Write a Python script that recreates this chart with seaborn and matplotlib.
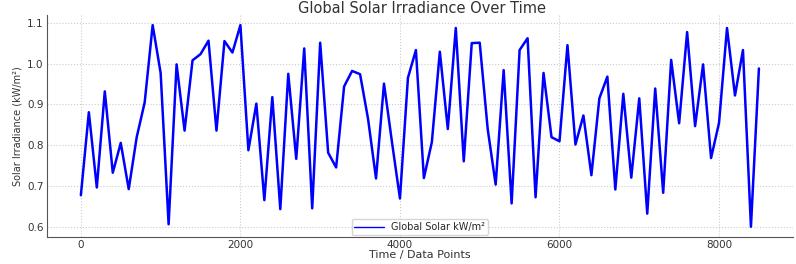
import pandas as pd
import seaborn as sns
import matplotlib.pyplot as plt

# time steps, one reading every 100 points
time_points = list(range(0, 8600, 100))

irradiance = [
    0.678, 0.881, 0.697, 0.932, 0.733, 0.806, 0.693, 0.820, 0.905, 1.094,
    0.977, 0.607, 0.998, 0.836, 1.008, 1.023, 1.056, 0.836, 1.055, 1.027,
    1.094, 0.788, 0.902, 0.666, 0.918, 0.644, 0.975, 0.767, 1.037, 0.646,
    1.051, 0.782, 0.746, 0.944, 0.982, 0.974, 0.865, 0.719, 0.951, 0.808,
    0.670, 0.965, 1.033, 0.720, 0.808, 1.029, 0.840, 1.087, 0.761, 1.050,
    1.051, 0.840, 0.704, 0.984, 0.658, 1.033, 1.062, 0.673, 0.977, 0.820,
    0.810, 1.045, 0.802, 0.873, 0.727, 0.915, 0.968, 0.692, 0.926, 0.721,
    0.915, 0.633, 0.939, 0.684, 1.009, 0.854, 1.077, 0.847, 0.998, 0.769,
    0.855, 1.087, 0.922, 1.033, 0.601, 0.988,
]

df = pd.DataFrame({'time': time_points, 'solar': irradiance})

sns.set_style('white')
plt.rcParams['font.family'] = ['DejaVu Sans']

fig, ax = plt.subplots(figsize=(7.96, 2.64), dpi=100)
sns.lineplot(data=df, x='time', y='solar', color='#0000ff', linewidth=1.8,
             label='Global Solar kW/m²', ax=ax)

# title placed by hand so it fits in the thin top strip
fig.text(0.53, 0.998, 'Global Solar Irradiance Over Time', fontsize=10.5,
         color='#333333', ha='center', va='top')
ax.set_xlabel('Time / Data Points', fontsize=8, color='#333333', labelpad=0)
ax.set_ylabel('Solar Irradiance (kW/m²)', fontsize=7, color='#333333', labelpad=3)
ax.set_xticks([0, 2000, 4000, 6000, 8000])
ax.set_yticks([0.6, 0.7, 0.8, 0.9, 1.0, 1.1])
ax.tick_params(labelsize=7.5, colors='#333333', length=1.5, pad=1)
ax.grid(True, linestyle=':', color='#cccccc', linewidth=0.8)
sns.despine(ax=ax)
ax.spines['left'].set_color('#555555')
ax.spines['bottom'].set_color('#555555')

leg = ax.legend(loc='lower center', fontsize=7, frameon=True, handlelength=3,
                borderaxespad=0.2, borderpad=0.3)
for line in leg.get_lines():
    line.set_linewidth(1)

plt.subplots_adjust(left=0.059, right=0.996, top=0.943, bottom=0.103)
plt.savefig('out.png', dpi=100)
